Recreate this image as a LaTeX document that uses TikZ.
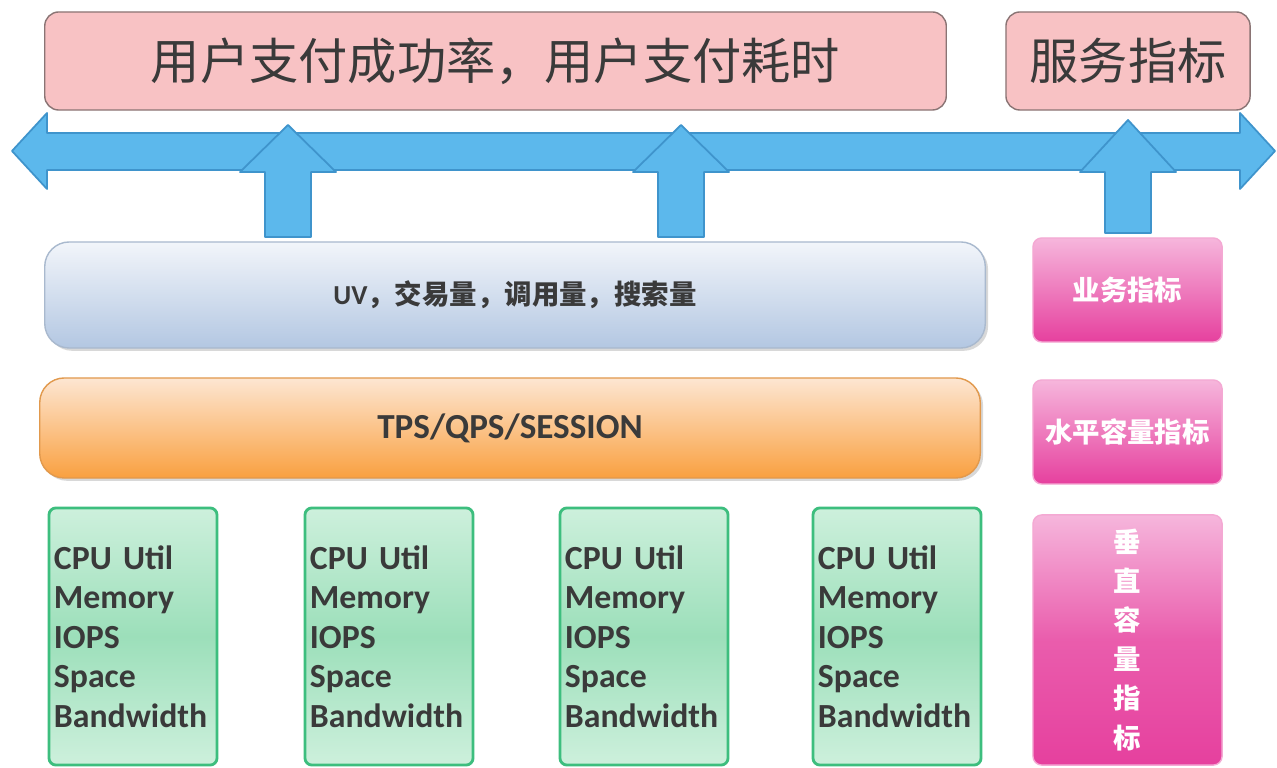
\documentclass[tikz,border=0pt]{standalone}
\usepackage{fontspec}
\setmainfont{Carlito}
\newfontfamily\cjk{Noto Sans CJK SC}
\usetikzlibrary{shadows}
\definecolor{arrowfill}{HTML}{5CB8EC}
\definecolor{arrowline}{HTML}{3F94CC}
\definecolor{toppink}{HTML}{F8C2C4}
\definecolor{topline}{HTML}{8A7474}
\definecolor{txtgray}{HTML}{3A3A3A}
\definecolor{uvtop}{HTML}{F2F5FA}
\definecolor{uvbot}{HTML}{B3C7E2}
\definecolor{tpstop}{HTML}{FDE6D2}
\definecolor{tpsbot}{HTML}{F9A040}
\definecolor{hosttop}{HTML}{CDF0DC}
\definecolor{hostmid}{HTML}{9CDFBA}
\definecolor{hostline}{HTML}{3DBE7E}
\definecolor{kpitop}{HTML}{F6B6DC}
\definecolor{kpibot}{HTML}{E6409E}
\tikzset{
  metricbox/.style={draw=topline,fill=toppink,rounded corners=4pt,text=txtgray,
    font=\cjk\fontsize{14}{16}\selectfont},
  layerbar/.style={rounded corners=7pt,text=txtgray,
    drop shadow={opacity=0.3,shadow xshift=0.8pt,shadow yshift=-0.8pt}},
  hostbox/.style={draw=hostline,line width=0.8pt,rounded corners=2pt,
    top color=hosttop,bottom color=hosttop,middle color=hostmid,
    minimum width=1.68cm,minimum height=2.57cm,text width=1.58cm,
    inner xsep=0.05cm,align=left,text=txtgray,
    font=\bfseries\fontsize{9.6}{11.2}\selectfont},
  kpibox/.style={draw=kpibot!45!white,rounded corners=2.5pt,top color=kpitop,
    bottom color=kpibot,minimum width=1.89cm,text=white,align=center,
    font=\cjk\bfseries\fontsize{7.8}{11.1}\selectfont},
  blockarrow/.style={fill=arrowfill,draw=arrowline,line width=0.5pt,line join=round}
}
\begin{document}
\begin{tikzpicture}[x=0.01cm,y=-0.01cm]
        \fill[white] (0,0) rectangle (1277,768);
        \useasboundingbox (0,0) rectangle (1277,768);
        %% top level metrics
        \node[metricbox,minimum width=9.01cm,minimum height=0.98cm] (pay) at (495.5,61) {用户支付成功率，用户支付耗时};
        \node[metricbox,minimum width=2.44cm,minimum height=0.98cm] (svc) at (1128,61) {服务指标};
        %% horizontal double arrow
        \draw[blockarrow] (12,151) -- (47,113) -- (47,133) -- (1240,133) -- (1240,113)
            -- (1275,151) -- (1240,189) -- (1240,170) -- (47,170) -- (47,189) -- cycle;
        %% up arrows
        \foreach \cx/\bot/\tip in {288/237/125, 681/237/125, 1128/233/120}
            \draw[blockarrow] (\cx-23,\bot) -- (\cx-23,172) -- (\cx-48,172) -- (\cx,\tip)
                -- (\cx+48,172) -- (\cx+23,172) -- (\cx+23,\bot) -- cycle;
        %% layers
        \node[layerbar,draw=uvbot!80!gray,top color=uvtop,bottom color=uvbot,
            minimum width=9.40cm,minimum height=1.06cm] (uv) at (515,295)
            {\fontsize{7.8}{9}\selectfont\bfseries UV{\cjk ，交易量，调用量，搜索量}};
        \node[layerbar,draw=tpsbot!80!gray,top color=tpstop,bottom color=tpsbot,
            minimum width=9.40cm,minimum height=1.00cm] (tps) at (510,428)
            {\fontsize{10}{12}\selectfont\bfseries TPS/QPS/SESSION};
        %% hosts
        \foreach \cx [count=\i] in {133,389,644,897}
            \node[hostbox] (host\i) at (\cx,636.5) {CPU Util\\Memory\\IOPS\\Space\\Bandwidth};
        %% right column
        \node[kpibox,minimum height=1.04cm] (biz) at (1127.5,290) {业务指标};
        \node[kpibox,minimum height=1.04cm] (hcap) at (1127.5,432) {水平容量指标};
        \node[kpibox,minimum height=2.50cm,middle color=kpibot!85!white] (vcap) at (1127.5,640)
            {垂\\直\\容\\量\\指\\标};
    \end{tikzpicture}
\end{document}
